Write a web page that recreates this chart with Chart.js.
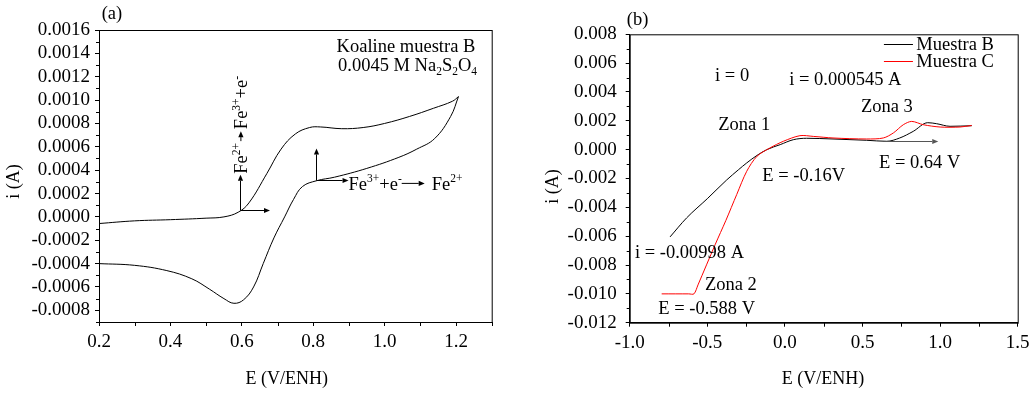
<!DOCTYPE html>
<html>
<head>
<meta charset="utf-8">
<script src="https://cdn.jsdelivr.net/npm/chart.js@4.4.0/dist/chart.umd.min.js"></script>
<style>
  html, body { margin: 0; padding: 0; background: #fff; }
  #wrap { position: relative; width: 1035px; height: 393px; }
  canvas { position: absolute; top: 0; }
  #chart_a { left: 0; }
  #chart_b { left: 520px; }
</style>
</head>
<body>
<div id="wrap">
  <canvas id="chart_a" width="520" height="393"></canvas>
  <canvas id="chart_b" width="515" height="393"></canvas>
</div>
<script>
// ---- data (a): cyclic voltammogram, Koaline muestra B
const aForwardE = [0.2, 0.3, 0.4, 0.5, 0.55, 0.59, 0.62, 0.67, 0.71, 0.75, 0.79, 0.82, 0.88, 0.94, 1.0, 1.07, 1.137, 1.19, 1.207];
const aForwardI = [-0.000057, -0.000034, -0.000024, -0.000011, 0.0, 0.00004, 0.00012, 0.00037, 0.00058, 0.00071, 0.000765, 0.00077, 0.000755, 0.000765, 0.0008, 0.00086, 0.00093, 0.00099, 0.00103];
const aReverseE = [1.207, 1.185, 1.14, 1.09, 1.04, 0.95, 0.86, 0.81, 0.77, 0.745, 0.72, 0.69, 0.66, 0.633, 0.605, 0.578, 0.55, 0.51, 0.46, 0.39, 0.3, 0.2];
const aReverseI = [0.00103, 0.00086, 0.00067, 0.00058, 0.00051, 0.000415, 0.00034, 0.00031, 0.00026, 0.00015, 0.0, -0.00018, -0.0004, -0.0006, -0.00071, -0.00074, -0.0007, -0.00062, -0.00053, -0.00046, -0.000415, -0.0004];
const aXTicks = [0.2, 0.4, 0.6, 0.8, 1.0, 1.2];
const aXMinor = [0.3, 0.5, 0.7, 0.9, 1.1, 1.3];
const aYTicks = [-0.0008, -0.0006, -0.0004, -0.0002, 0.0, 0.0002, 0.0004, 0.0006, 0.0008, 0.0010, 0.0012, 0.0014, 0.0016];
const aYMinor = [-0.0009, -0.0007, -0.0005, -0.0003, -0.0001, 0.0001, 0.0003, 0.0005, 0.0007, 0.0009, 0.0011, 0.0013, 0.0015];

// ---- data (b): Muestra B / Muestra C
const bSeriesNames = ["Muestra B", "Muestra C"];
const bSampleBE = [-0.74, -0.633, -0.5, -0.375, -0.3, -0.246, -0.18, -0.117, -0.03, 0.054, 0.14, 0.31, 0.527, 0.656, 0.74, 0.827, 0.92, 0.978, 1.064, 1.204];
const bSampleBI = [-0.00605, -0.00473, -0.0034, -0.0021, -0.0014, -0.00092, -0.0004, 0.0, 0.00035, 0.00069, 0.00079, 0.00074, 0.00065, 0.00058, 0.00081, 0.00127, 0.00187, 0.0018, 0.00162, 0.00166];
const bSampleCE = [-0.794, -0.62, -0.586, -0.56, -0.45, -0.38, -0.31, -0.246, -0.18, -0.096, -0.01, 0.097, 0.183, 0.31, 0.527, 0.634, 0.699, 0.763, 0.817, 0.892, 1.0, 1.128, 1.204];
const bSampleCI = [-0.010, -0.010, -0.010, -0.00938, -0.0066, -0.0049, -0.0031, -0.0015, -0.00046, 0.00012, 0.00058, 0.00097, 0.00092, 0.00081, 0.00074, 0.00081, 0.00116, 0.00173, 0.00196, 0.00173, 0.00157, 0.00157, 0.00168];
const bXTicks = [-1.0, -0.5, 0.0, 0.5, 1.0, 1.5];
const bXMinor = [-0.75, -0.25, 0.25, 0.75, 1.25];
const bYTicks = [-0.012, -0.010, -0.008, -0.006, -0.004, -0.002, 0.0, 0.002, 0.004, 0.006, 0.008];
const bYMinor = [-0.011, -0.009, -0.007, -0.005, -0.003, -0.001, 0.001, 0.003, 0.005, 0.007];

const SERIF = "'Liberation Serif', 'Times New Roman', serif";
const TXT = 18.5;

function pts(xs, ys) {
  return xs.map((x, i) => ({ x: x, y: ys[i] }));
}

function arrow(ctx, x1, y1, x2, y2) {
  const a = Math.atan2(y2 - y1, x2 - x1);
  const h = 6;
  ctx.beginPath();
  ctx.moveTo(x1, y1);
  ctx.lineTo(x2 - h * Math.cos(a), y2 - h * Math.sin(a));
  ctx.stroke();
  ctx.beginPath();
  ctx.moveTo(x2, y2);
  ctx.lineTo(x2 - h * Math.cos(a) + 2.6 * Math.sin(a), y2 - h * Math.sin(a) - 2.6 * Math.cos(a));
  ctx.lineTo(x2 - h * Math.cos(a) - 2.6 * Math.sin(a), y2 - h * Math.sin(a) + 2.6 * Math.cos(a));
  ctx.closePath();
  ctx.fill();
}

// parts: "text" | {t, sup} | {t, sub} | {arrow, before, after}
function partWidth(ctx, p, size) {
  if (typeof p === "string") { ctx.font = size + "px " + SERIF; return ctx.measureText(p).width; }
  if (p.arrow) return p.arrow + (p.before || 0) + (p.after || 0);
  ctx.font = (size * 0.62) + "px " + SERIF;
  return ctx.measureText(p.t).width;
}

function rich(ctx, x, y, parts, size, align) {
  let w = 0;
  parts.forEach(p => { w += partWidth(ctx, p, size); });
  let cx = align === "right" ? x - w : x;
  ctx.textAlign = "left";
  ctx.textBaseline = "alphabetic";
  parts.forEach(p => {
    const pw = partWidth(ctx, p, size);
    if (typeof p === "string") {
      ctx.font = size + "px " + SERIF;
      ctx.fillText(p, cx, y);
    } else if (p.arrow) {
      const ay = y - size * 0.33;
      arrow(ctx, cx + (p.before || 0), ay, cx + (p.before || 0) + p.arrow, ay);
    } else {
      ctx.font = (size * 0.62) + "px " + SERIF;
      ctx.fillText(p.t, cx, y + (p.sup ? -size * 0.4 : size * 0.2));
    }
    cx += pw;
  });
}

function scaleOpts(min, max, tickList, digits, padding, fitSize, isX) {
  return {
    type: "linear",
    min: min,
    max: max,
    afterBuildTicks: s => { s.ticks = tickList.map(v => ({ value: v })); },
    afterFit: s => { if (isX) s.height = fitSize; else s.width = fitSize; },
    ticks: {
      autoSkip: false,
      maxRotation: 0,
      padding: padding,
      color: "#000",
      font: { family: SERIF, size: 19 },
      callback: v => Number(v).toFixed(digits)
    },
    grid: { drawOnChartArea: false, drawTicks: true, tickLength: 4, tickColor: "#000", color: "#000" },
    border: { color: "#000", width: 1 }
  };
}

// frame, minor ticks, axis titles and notes
function framePlugin(minorX, minorY, titles, notes) {
  return {
    id: "frame",
    afterDraw(chart) {
      const ctx = chart.ctx;
      const a = chart.chartArea;
      const sx = chart.scales.x, sy = chart.scales.y;
      ctx.save();
      ctx.strokeStyle = "#000";
      ctx.fillStyle = "#000";
      ctx.lineWidth = 1;
      ctx.strokeRect(a.left + 0.5, a.top + 0.5, a.right - a.left, a.bottom - a.top);
      ctx.beginPath();
      minorX.forEach(v => {
        const p = Math.round(sx.getPixelForValue(v)) + 0.5;
        ctx.moveTo(p, a.bottom); ctx.lineTo(p, a.bottom + 4);
      });
      minorY.forEach(v => {
        const p = Math.round(sy.getPixelForValue(v)) + 0.5;
        ctx.moveTo(a.left, p); ctx.lineTo(a.left - 3, p);
      });
      ctx.stroke();

      // axis titles
      ctx.font = "18px " + SERIF;
      ctx.textAlign = "center";
      ctx.textBaseline = "alphabetic";
      ctx.fillText(titles.x, sx.getPixelForValue(titles.xAt), 384);
      ctx.save();
      ctx.translate(titles.yLeft, sy.getPixelForValue(titles.yAt));
      ctx.rotate(-Math.PI / 2);
      ctx.fillText(titles.y, 0, 0);
      ctx.restore();

      notes(chart, ctx, sx, sy);
      ctx.restore();
    }
  };
}

function notesA(chart, ctx, sx, sy) {
  const X = v => sx.getPixelForValue(v), Y = v => sy.getPixelForValue(v);
  rich(ctx, X(0.2076), Y(0.001695), ["(a)"], TXT);
  rich(ctx, X(1.2541), Y(0.001414), ["Koaline muestra B"], TXT, "right");
  rich(ctx, X(1.2589), Y(0.001249), ["0.0045 M Na", { t: "2", sub: true }, "S", { t: "2", sub: true }, "O", { t: "4", sub: true }], TXT, "right");

  // oxidation arrows
  const ox = Math.round(X(0.594)) + 0.5, oy = Math.round(Y(0.0000574)) + 0.5;
  arrow(ctx, ox, oy, ox, Y(0.00036));
  arrow(ctx, ox, oy, X(0.679), oy);
  ctx.save();
  ctx.translate(ox + 6.5, Y(0.00036) - 1);
  ctx.rotate(-Math.PI / 2);
  rich(ctx, 0, 0, ["Fe", { t: "2+", sup: true }, { arrow: 10, before: 2, after: 2 }, "Fe", { t: "3+", sup: true }, "+e", { t: "-", sup: true }], TXT);
  ctx.restore();

  // reduction arrows
  const rx = Math.round(X(0.808)) + 0.5, ry = Math.round(Y(0.000319)) + 0.5;
  arrow(ctx, rx, ry, rx, Y(0.000586));
  arrow(ctx, rx, ry, X(0.899), ry);
  rich(ctx, X(0.899), ry + 9, ["Fe", { t: "3+", sup: true }, "+e", { t: "-", sup: true }, { arrow: 23, before: 0, after: 7 }, "Fe", { t: "2+", sup: true }], TXT);
}

function notesB(chart, ctx, sx, sy) {
  const X = v => sx.getPixelForValue(v), Y = v => sy.getPixelForValue(v);
  rich(ctx, X(-1.019), Y(0.00866), ["(b)"], TXT);
  rich(ctx, X(-0.450), Y(0.00478), ["i = 0"], TXT);
  rich(ctx, X(0.028), Y(0.0045), ["i = 0.000545 A"], TXT);
  rich(ctx, X(0.490), Y(0.00258), ["Zona 3"], TXT);
  rich(ctx, X(-0.429), Y(0.00139), ["Zona 1"], TXT);
  rich(ctx, X(-0.146), Y(-0.00215), ["E = -0.16V"], TXT);
  rich(ctx, X(0.606), Y(-0.00127), ["E = 0.64 V"], TXT);
  rich(ctx, X(-0.966), Y(-0.0075), ["i = -0.00998 A"], TXT);
  rich(ctx, X(-0.515), Y(-0.0097), ["Zona 2"], TXT);
  rich(ctx, X(-0.816), Y(-0.01143), ["E = -0.588 V"], TXT);

  ctx.strokeStyle = "#555";
  ctx.fillStyle = "#555";
  const ay = Math.round(Y(0.000575)) + 0.5;
  arrow(ctx, X(0.634), ay, X(0.988), ay);

  // legend
  const rows = [[0.00735, 0.00693], [0.00617, 0.00573]];
  chart.data.datasets.forEach((ds, i) => {
    ctx.strokeStyle = ds.borderColor;
    ctx.lineWidth = 1;
    ctx.beginPath();
    const ly = Math.round(Y(rows[i][0])) + 0.5;
    ctx.moveTo(X(0.638), ly);
    ctx.lineTo(X(0.825), ly);
    ctx.stroke();
    ctx.fillStyle = "#000";
    rich(ctx, X(0.847), Y(rows[i][1]), [ds.label], TXT);
  });
}

const common = {
  responsive: false,
  animation: false,
  devicePixelRatio: 1,
  plugins: { legend: { display: false }, tooltip: { enabled: false } },
  elements: { point: { radius: 0 } }
};

new Chart(document.getElementById("chart_a"), {
  type: "scatter",
  data: {
    datasets: [
      { label: "forward", data: pts(aForwardE, aForwardI), showLine: true, borderColor: "#000", borderWidth: 1, tension: 0.4 },
      { label: "reverse", data: pts(aReverseE, aReverseI), showLine: true, borderColor: "#000", borderWidth: 1, tension: 0.4 }
    ]
  },
  options: Object.assign({}, common, {
    layout: { padding: { top: 30, right: 28.3, left: 0, bottom: 0 } },
    scales: {
      x: scaleOpts(0.2, 1.3, aXTicks, 1, 5, 71, true),
      y: scaleOpts(-0.0009, 0.0016, aYTicks, 4, 5, 99, false)
    }
  }),
  plugins: [framePlugin(aXMinor, aYMinor, { x: "E (V/ENH)", xAt: 0.726, y: "i (A)", yAt: 0.000302, yLeft: 19 }, notesA)]
});

new Chart(document.getElementById("chart_b"), {
  type: "scatter",
  data: {
    datasets: [
      { label: bSeriesNames[0], data: pts(bSampleBE, bSampleBI), showLine: true, borderColor: "#000", borderWidth: 1, cubicInterpolationMode: "monotone", order: 1 },
      { label: bSeriesNames[1], data: pts(bSampleCE, bSampleCI), showLine: true, borderColor: "#ff0000", borderWidth: 1, tension: 0.3, order: 0 }
    ]
  },
  options: Object.assign({}, common, {
    layout: { padding: { top: 34.3, right: 17.3, left: 0, bottom: 0 } },
    scales: {
      x: scaleOpts(-1.0, 1.5, bXTicks, 1, 5, 70.3, true),
      y: scaleOpts(-0.012, 0.008, bYTicks, 3, 9, 109.7, false)
    }
  }),
  plugins: [framePlugin(bXMinor, bYMinor, { x: "E (V/ENH)", xAt: 0.2455, y: "i (A)", yAt: -0.00256, yLeft: 38 }, notesB)]
});
</script>
</body>
</html>
